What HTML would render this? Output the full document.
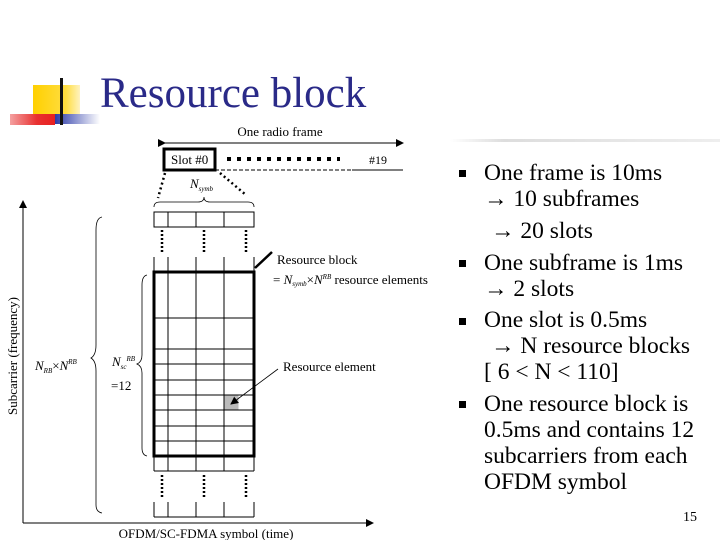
<!DOCTYPE html>
<html><head><meta charset="utf-8"><style>
html,body{margin:0;padding:0;background:#fff;}
svg{display:block;font-family:"Liberation Serif",serif;}
</style></head><body>
<svg width="720" height="540" viewBox="0 0 720 540" xmlns="http://www.w3.org/2000/svg">
<defs>
<linearGradient id="rg" x1="0" x2="1"><stop offset="0" stop-color="#f4a0a0"/><stop offset="0.6" stop-color="#e83030"/><stop offset="1" stop-color="#e82020"/></linearGradient>
<linearGradient id="bg" x1="0" x2="1"><stop offset="0" stop-color="#2b3aa8"/><stop offset="1" stop-color="#ffffff"/></linearGradient>
<linearGradient id="yg" x1="0" x2="1"><stop offset="0" stop-color="#ffd000"/><stop offset="0.7" stop-color="#ffdd40"/><stop offset="1" stop-color="#fff3c0"/></linearGradient>
<linearGradient id="lg" x1="0" x2="1"><stop offset="0" stop-color="#fff"/><stop offset="0.2" stop-color="#ddd"/><stop offset="1" stop-color="#eee"/></linearGradient>
<marker id="ah" markerWidth="8" markerHeight="8" refX="7" refY="4" orient="auto" markerUnits="userSpaceOnUse"><path d="M0,0 L8,4 L0,8 z" fill="#000"/></marker>
</defs>
<rect x="33" y="85" width="47" height="34" fill="url(#yg)"/>
<rect x="55" y="114" width="45" height="10" fill="url(#bg)"/>
<rect x="10" y="114" width="45" height="11" fill="url(#rg)"/>
<rect x="60" y="78" width="3" height="47" fill="#111"/>
<text x="100" y="107" font-size="43" fill="#2a2a88">Resource block</text>
<rect x="450" y="139" width="270" height="3" fill="url(#lg)"/>

<g stroke="#000" fill="none">
<line x1="165" y1="143" x2="403" y2="143" stroke-width="1" marker-end="url(#ah)" marker-start="url(#ah)"/>
<rect x="164" y="149" width="51" height="21" stroke-width="3"/>
<line x1="215" y1="170" x2="352" y2="170" stroke-dasharray="4,2"/>
<line x1="352" y1="170" x2="403" y2="170"/>
<line x1="227" y1="159" x2="340" y2="159" stroke-width="4" stroke-dasharray="4,6"/>
<line x1="165" y1="173" x2="158" y2="198" stroke-width="2.5" stroke-dasharray="2,3"/>
<line x1="220" y1="173" x2="246" y2="195" stroke-width="2.5" stroke-dasharray="2,3"/>
<rect x="154" y="212" width="100" height="15"/>
<line x1="168" y1="212" x2="168" y2="227"/><line x1="196" y1="212" x2="196" y2="227"/><line x1="224" y1="212" x2="224" y2="227"/>
<path d="M154,207 Q154,202 160,202 L198,202 Q204,202 204,197 Q204,202 210,202 L248,202 Q254,202 254,207" stroke-width="0.8"/>
<g stroke-width="2.5" stroke-dasharray="2,2">
<line x1="162" y1="230" x2="162" y2="252"/><line x1="204" y1="230" x2="204" y2="252"/><line x1="246" y1="230" x2="246" y2="252"/>
<line x1="162" y1="475" x2="162" y2="497"/><line x1="204" y1="475" x2="204" y2="497"/><line x1="246" y1="475" x2="246" y2="497"/>
</g>
<g stroke-width="1">
<line x1="154" y1="257" x2="154" y2="471"/><line x1="168" y1="257" x2="168" y2="471"/><line x1="196" y1="257" x2="196" y2="471"/><line x1="224" y1="257" x2="224" y2="471"/><line x1="254" y1="257" x2="254" y2="471"/>
<line x1="154" y1="318" x2="254" y2="318"/><line x1="154" y1="349" x2="254" y2="349"/><line x1="154" y1="364" x2="254" y2="364"/><line x1="154" y1="380" x2="254" y2="380"/><line x1="154" y1="395" x2="254" y2="395"/><line x1="154" y1="410" x2="254" y2="410"/><line x1="154" y1="426" x2="254" y2="426"/><line x1="154" y1="441" x2="254" y2="441"/>
<line x1="154" y1="471" x2="254" y2="471"/>
<line x1="154" y1="502" x2="154" y2="517"/><line x1="168" y1="502" x2="168" y2="517"/><line x1="196" y1="502" x2="196" y2="517"/><line x1="224" y1="502" x2="224" y2="517"/><line x1="254" y1="502" x2="254" y2="517"/>
<line x1="154" y1="517" x2="254" y2="517"/>
</g>
<rect x="224.5" y="395.5" width="14" height="14" fill="#bbb" stroke="none"/>
<rect x="154" y="272" width="100" height="184" stroke-width="3"/>
<line x1="255" y1="268" x2="272" y2="252" stroke-width="2.5"/>
<line x1="278" y1="369" x2="231" y2="404" stroke-width="0.8" marker-end="url(#ah)"/>
<line x1="23" y1="523" x2="23" y2="201" marker-end="url(#ah)"/>
<line x1="23" y1="523" x2="373" y2="523" marker-end="url(#ah)"/>
<path d="M102,217 Q96,218 96,230 L96,345 Q96,355 91,358 Q96,361 96,371 L96,505 Q96,512 102,513" stroke-width="0.8"/>
<path d="M147,275 Q142,276 142,285 L142,355 Q142,362 137,364 Q142,366 142,373 L142,448 Q142,455 147,456" stroke-width="0.8"/>
</g>
<g font-size="13" fill="#000">
<text x="280" y="136" text-anchor="middle">One radio frame</text>
<text x="171" y="164">Slot #0</text>
<text x="369" y="164" font-size="12">#19</text>
<text x="190" y="188" font-style="italic">N<tspan font-size="7" dy="3">symb</tspan></text>
<text x="277" y="264">Resource block</text>
<text x="273" y="284">= <tspan font-style="italic">N</tspan><tspan font-size="7" dy="2" font-style="italic">symb</tspan><tspan dy="-2">×</tspan><tspan font-style="italic">N</tspan><tspan font-size="7" dy="-5" font-style="italic">RB</tspan><tspan dy="5">  resource elements</tspan></text>
<text x="283" y="371">Resource element</text>
<text x="35" y="370" font-style="italic">N<tspan font-size="7" dy="3">RB</tspan><tspan dy="-3" font-style="normal">×</tspan>N<tspan font-size="7" dy="-6">RB</tspan></text>
<text x="112" y="366" font-style="italic">N<tspan font-size="7" dy="3">sc</tspan><tspan font-size="7" dy="-8">RB</tspan></text>
<text x="111" y="390">=12</text>
<text x="206" y="538" text-anchor="middle">OFDM/SC-FDMA symbol (time)</text>
<text transform="translate(17,356) rotate(-90)" text-anchor="middle">Subcarrier (frequency)</text>
</g>
<g fill="#000">
<rect x="459" y="170" width="7" height="7"/><rect x="459" y="260" width="7" height="7"/><rect x="459" y="318" width="7" height="7"/><rect x="459" y="401" width="7" height="7"/>
</g>
<g font-size="23.5" fill="#000">
<text x="484" y="180">One frame is 10ms</text>
<text x="484" y="206">→ 10 subframes</text>
<text x="491" y="238">→ 20 slots</text>
<text x="484" y="270">One subframe is 1ms</text>
<text x="484" y="296">→ 2 slots</text>
<text x="484" y="327">One slot is 0.5ms</text>
<text x="491" y="353">→ N resource blocks</text>
<text x="484" y="379">[ 6 &lt; N &lt; 110]</text>
<text x="484" y="411">One resource block is</text>
<text x="484" y="437">0.5ms and contains 12</text>
<text x="484" y="463">subcarriers from each</text>
<text x="484" y="489">OFDM symbol</text>
</g>
<text x="683" y="521" font-size="14">15</text>
</svg>
</body></html>
